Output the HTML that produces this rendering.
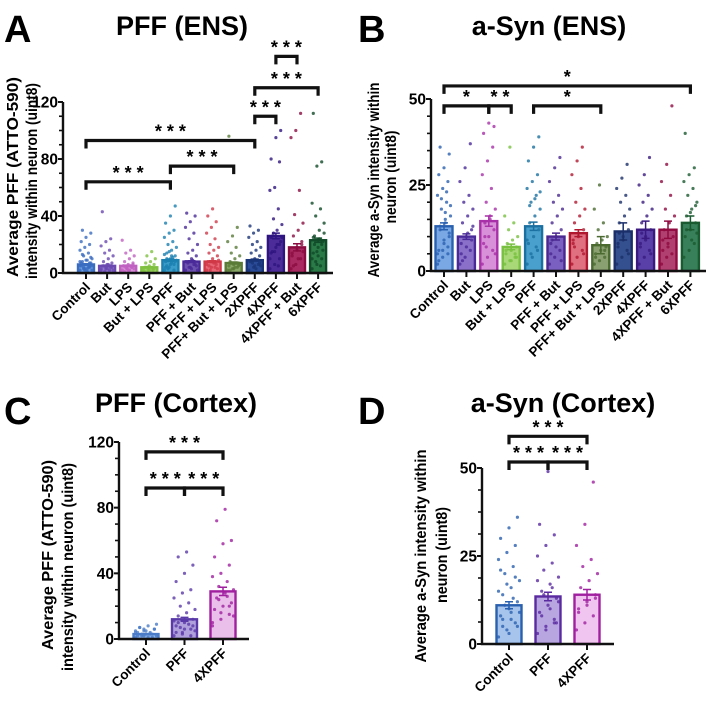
<!DOCTYPE html>
<html><head><meta charset="utf-8"><style>
body{margin:0;background:#fff;}
svg{display:block;font-family:"Liberation Sans",Arial,sans-serif;font-weight:bold;}
</style></head><body>
<svg id="fig" width="708" height="705" viewBox="0 0 708 705">
<text x="4" y="42" font-size="38">A</text>
<text x="182" y="35" font-size="27" text-anchor="middle">PFF (ENS)</text>
<text x="358" y="42" font-size="38">B</text>
<text x="549" y="35" font-size="27" text-anchor="middle">a-Syn (ENS)</text>
<text x="4" y="424" font-size="38">C</text>
<text x="176" y="412" font-size="27" text-anchor="middle">PFF (Cortex)</text>
<text x="358" y="424" font-size="38">D</text>
<text x="563" y="412" font-size="27" text-anchor="middle">a-Syn (Cortex)</text>
</svg>
<script>
// ---- Panel A data ----
const catsA = ["Control","But","LPS","But + LPS","PFF","PFF + But","PFF + LPS","PFF+ But + LPS","2XPFF","4XPFF","4XPFF + But","6XPFF"];
const meansA = [6,5,5,4,9,8,8,7,9,26,18,23];
const semA = [0.5,0.5,0.5,0.5,0.8,0.6,0.6,0.7,0.7,2,2.5,1.5];
const ticksA = [0,40,80,120];
const ptsA = [
 [2,3,4,5,6,7,8,9,10,12,14,16,18,20,22,25,28,30,3,5,4,6,8,2,5,7,9,11,13,1,2,3,4,5,6,7],
 [2,3,4,5,6,7,8,10,12,14,16,19,22,24,43,3,4,5,6,2,1,2,3,4,5],
 [2,3,4,5,6,7,8,10,12,14,16,23,3,4,5,2,6,1,2,3,4,5],
 [1,2,3,4,5,6,7,8,10,12,15,3,4,2,1,2,3,4],
 [2,4,6,8,10,12,14,16,18,20,22,25,28,30,35,40,47,5,7,9,3,11,13,15,2,4,6,8,10,12],
 [2,4,6,8,10,12,14,16,20,24,28,32,36,40,42,3,5,7,9,2,4,6,8],
 [2,4,6,8,10,12,14,16,18,20,24,28,32,36,40,45,3,5,7,9,2,4,6,8],
 [2,3,4,5,6,7,8,10,12,14,18,22,26,32,96,3,5,2,4,6],
 [2,4,6,8,10,12,14,16,18,20,22,25,28,30,33,5,7,9,3,5,7,9],
 [3,6,10,14,18,22,26,30,34,38,45,58,60,78,80,95,100,15,20,25,28,5,10,15,20,25],
 [3,6,10,14,18,22,26,30,35,41,58,95,100,112,12,16,20,5,10,15],
 [3,6,10,14,18,22,26,30,35,40,45,49,75,78,112,12,16,20,24,28,8,5,10,15,20,25]
];
const sigA = [[0,4,64,"***"],[4,7,75,"***"],[0,8,93,"***"],[8,9,110,"***"],[8,11,130,"***"],[9,10,152,"***"]];
const fillA = ["#6d9ee0","#9078cc","#d890d8","#a0d46a","#3a9cc8","#6e52b0","#e86878","#8aa868","#2a4c98","#4c2c98","#a82a60","#2a7a48"];
const lineA = ["#3a6cc0","#6a48b0","#c060c0","#80c040","#1a80b0","#4a2a98","#d03848","#5a7a38","#1a3478","#2e1480","#8a0c40","#104a28"];

// ---- Panel B data ----
const catsB = catsA.slice();
const meansB = [13,10,14.5,7,13,10,11,7.5,11.5,12,12,14];
const semB = [1,0.8,1.5,0.8,1.2,1,1,2.5,2.5,2.5,2.5,2];
const ticksB = [0,25,50];
const ptsB = [
 [2,4,5,6,8,10,12,14,16,18,20,22,24,26,28,30,34,36,17,19,21,23,5,6,7,3,9,11,13,15],
 [2,4,6,8,10,12,14,16,18,20,22,26,30,37,5,7,9,3,11,13],
 [2,4,6,8,10,12,14,16,18,20,24,28,32,36,40,43,42,10,15,5,7],
 [2,3,4,5,6,7,8,9,10,12,14,16,36,5,6,3,4,7],
 [2,4,6,8,10,12,14,16,18,20,22,24,26,28,32,36,39,19,21,23,5,7,9],
 [2,4,6,8,10,12,14,16,18,20,22,26,30,33,5,7,3,9],
 [2,4,6,8,10,12,14,16,18,20,24,28,32,36,9,11,5,7],
 [2,3,4,5,6,7,8,9,10,12,14,18,25,6,4],
 [2,4,6,8,10,12,14,16,18,20,22,24,27,31,7,9,5,11],
 [2,4,6,8,10,12,14,16,18,20,22,25,28,33,7,9,5,11],
 [2,4,5,6,8,10,12,14,16,18,22,26,31,48,9,7],
 [4,6,8,10,12,14,16,18,20,22,24,26,28,30,40,17,19,12,9,11]
];
const sigB = [[0,11,53.8,"*"],[0,2,48,"*"],[2,3,48,"**"],[4,7,48,"*"]];
const fillB = ["#7aa8e4","#8a70c8","#d890d8","#a8d878","#4aa0cc","#7a60c0","#e07080","#8aa070","#34508e","#5840a8","#b04070","#38805a"];
const lineB = ["#2a60b0","#4a2a98","#a830a8","#78c040","#1a70a0","#4a2890","#b01830","#4a6a30","#1a2f6a","#3a1a80","#900a40","#1a5a30"];

// ---- Panel C data ----
const catsC = ["Control","PFF","4XPFF"];
const meansC = [3,12,29];
const semC = [0.3,1.2,2.5];
const ticksC = [0,40,80,120];
const ptsC = [
 [1,2,3,4,5,6,7,8,9,2,3,4,5,1,2,3,6,7,1,2,3,4,5,6],
 [2,4,6,8,10,12,14,16,18,20,22,25,28,30,35,40,45,50,53,5,7,9,11,3,2,4,6,8,10],
 [8,12,15,18,20,22,25,28,30,32,35,38,40,45,50,58,60,72,79,14,24,26,10,16,20]
];
const sigC = [[0,2,114,"***"],[0,1,92,"***"],[1,2,92,"***"]];
const fillC = ["#8fb5e8","#b0a0dc","#eac0ea"];
const lineC = ["#4a7cc8","#5a3aa8","#a020a0"];

// ---- Panel D data ----
const catsD = ["Control","PFF","4XPFF"];
const meansD = [11,13.5,14];
const semD = [1,1.2,1.5];
const ticksD = [0,25,50];
const ptsD = [
 [2,4,6,8,10,12,14,16,18,20,22,24,26,28,30,33,36,5,7,9,11,13,15,17,19,21,3,5,7,9],
 [3,5,7,9,11,13,15,17,19,21,23,25,28,31,34,49,6,8,10,12,14,16,18,4,6],
 [4,6,8,10,12,14,16,18,20,22,24,28,34,46,9,11,13]
];
const sigD = [[0,2,59,"***"],[0,1,51.7,"***"],[1,2,51.7,"***"]];
const fillD = ["#a6c4ec","#b8a6e0","#f0c6f0"];
const lineD = ["#2a60b0","#5a2aa0","#a020a0"];

const NS="http://www.w3.org/2000/svg";
const svg=document.getElementById('fig');
function mk(tag,attrs,parent){const e=document.createElementNS(NS,tag);for(const k in attrs)e.setAttribute(k,attrs[k]);(parent||svg).appendChild(e);return e;}

function panel(p){
  const g=mk('g',{});
  
  
  const y=v=>p.y0-(v-0)/(p.ymax)*(p.y0-p.yTop);
  const x=i=>p.x0+i*p.dx;
  p.cats.forEach((c,i)=>{
    const b=mk('rect',{x:x(i)-p.bw/2,y:y(p.means[i]),width:p.bw,height:p.y0-y(p.means[i]),fill:p.fill[i],stroke:p.line[i],'stroke-width':2.4},g);
    
    
  });
  p.cats.forEach((c,i)=>{
    p.pts[i].forEach((v,j)=>{
      const jit=((j*37)%11-5)/5*(p.bw/2-2);
      const d=mk('circle',{cx:x(i)+jit,cy:y(v),r:1.6,fill:p.line[i],opacity:0.8},g);
      
      
    });
  });
  p.cats.forEach((c,i)=>{
    const m=p.means[i],s=p.sem[i];
    mk('path',{d:`M${x(i)},${y(m-s)}V${y(m+s)}M${x(i)-4},${y(m+s)}H${x(i)+4}M${x(i)-4},${y(m-s)}H${x(i)+4}`,stroke:p.line[i],'stroke-width':1.5,fill:'none'},g);
  });
  const ax=mk('path',{d:`M${p.ax},${p.yTop}V${p.y0}H${p.xEnd}`,stroke:'#111','stroke-width':2.4,fill:'none'},g);
  
  
  for(let v=0;v<=p.ymax+1e-6;v+=p.minor){mk('line',{x1:p.ax-4,x2:p.ax,y1:y(v),y2:y(v),stroke:'#111','stroke-width':1.6},g);}
  p.ticks.forEach(t=>{
    mk('line',{x1:p.ax-5,x2:p.ax,y1:y(t),y2:y(t),stroke:'#111','stroke-width':2},g);
    const tl=mk('text',{x:p.ax-5,y:y(t)+5.5,'font-size':15.5,'text-anchor':'end'},g);
    tl.textContent=t;
    
    
  });
  p.cats.forEach((c,i)=>{
    mk('line',{x1:x(i),x2:x(i),y1:p.y0,y2:p.y0+6,stroke:'#111','stroke-width':2},g);
    const t=mk('text',{x:x(i)+5,y:p.y0+15,'font-size':p.xfs,'text-anchor':'end',transform:`rotate(-45 ${x(i)+5} ${p.y0+15})`},g);
    t.textContent=c;
    
    
  });
  p.ytitle.forEach((l,k)=>{
    const cx=p.ytx+k*p.ydy;
    const t=mk('text',{x:0,y:0,'font-size':p.yfs,'text-anchor':'middle',textLength:p.ylen[k],lengthAdjust:'spacingAndGlyphs',transform:`translate(${cx},${p.ytc[k]}) rotate(-90)`},g);
    t.textContent=l;
    
    
  });
  p.sig.forEach(s=>{
    const yy=y(s[2]);
    const br=mk('path',{d:`M${x(s[0])},${yy+8}V${yy}H${x(s[1])}V${yy+8}`,stroke:'#111','stroke-width':3.2,fill:'none'},g);
    
    
    const st=mk('text',{x:(x(s[0])+x(s[1]))/2,y:yy-3,'font-size':18,'text-anchor':'middle'},g);
    st.textContent=s[3].split('').join(' ');
    
    
  });
}
panel({id:'a',cats:catsA,means:meansA,sem:semA,pts:ptsA,ticks:ticksA,sig:sigA,fill:fillA,line:lineA,
  ymax:120,minor:10,y0:273,yTop:102,ax:63,x0:86,dx:21.1,bw:16,xEnd:333,xfs:13.5,yfs:16,ydy:19,
  ytitle:["Average PFF (ATTO-590)","intensity within neuron (uint8)"],ylen:[200,196],ytx:18,ytc:[177,181]});
panel({id:'b',cats:catsB,means:meansB,sem:semB,pts:ptsB,ticks:ticksB,sig:sigB,fill:fillB,line:lineB,
  ymax:50,minor:5,y0:271,yTop:99,ax:431,x0:444,dx:22.4,bw:17,xEnd:706,xfs:13.5,yfs:16,ydy:17,
  ytitle:["Average a-Syn intensity within","neuron (uint8)"],ylen:[195,93],ytx:379,ytc:[180,177]});
panel({id:'c',cats:catsC,means:meansC,sem:semC,pts:ptsC,ticks:ticksC,sig:sigC,fill:fillC,line:lineC,
  ymax:120,minor:10,y0:639,yTop:442,ax:119,x0:146,dx:38.5,bw:25,xEnd:249,xfs:13.5,yfs:16,ydy:20,
  ytitle:["Average PFF (ATTO-590)","intensity within neuron (uint8)"],ylen:[190,208],ytx:53,ytc:[555,567]});
panel({id:'d',cats:catsD,means:meansD,sem:semD,pts:ptsD,ticks:ticksD,sig:sigD,fill:fillD,line:lineD,
  ymax:50,minor:6.25,y0:644,yTop:468,ax:482,x0:509,dx:39,bw:25,xEnd:614,xfs:13.5,yfs:16,ydy:21,
  ytitle:["Average a-Syn intensity within","neuron (uint8)"],ylen:[213,96],ytx:426,ytc:[556,555]});
</script>
</body></html>
